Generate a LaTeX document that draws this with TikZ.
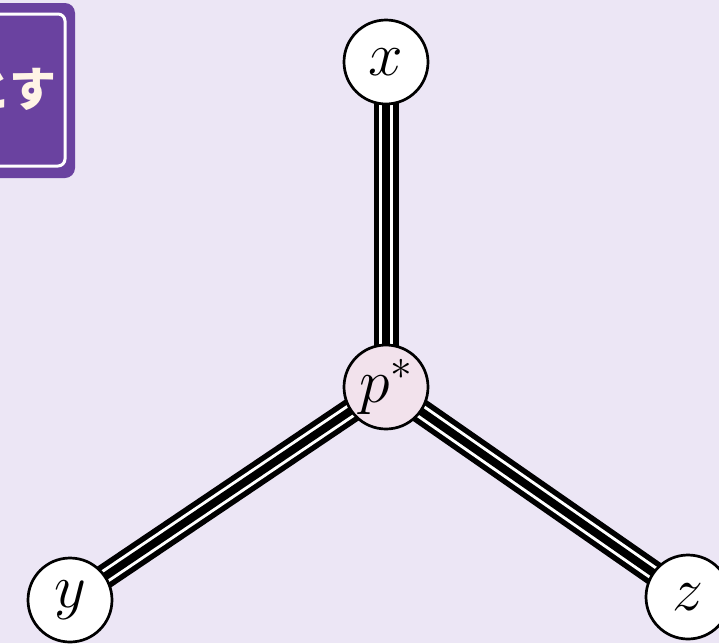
\RequirePackage{fix-cm}
\documentclass[tikz,border=0pt]{standalone}
\usepackage{fontspec}
\newfontfamily\jpfont{Noto Sans CJK JP}
\usetikzlibrary{backgrounds}
\definecolor{bgcol}{HTML}{ECE6F5}
\definecolor{boxpurple}{HTML}{6A42A0}
\definecolor{cream}{HTML}{FFF4E6}
\definecolor{pstarfill}{HTML}{F2E2EC}
\pgfdeclarelayer{edges}
\pgfsetlayers{background,edges,main}
\tikzset{
  vert/.style={circle, draw=black, line width=2.7pt, minimum size=84pt,
    inner sep=0pt, fill=white, font=\fontsize{62}{66}\selectfont},
  bond/.style={draw=black, line width=25pt,
    postaction={draw=white, line width=14pt},
    postaction={draw=black, line width=8pt}},
}
\begin{document}
\begin{tikzpicture}[x=1pt,y=-1pt]
\useasboundingbox (0,0) rectangle (719,643);
\begin{pgfonlayer}{background}
  \fill[bgcol] (0,0) rectangle (719,643);
\end{pgfonlayer}
\clip (0,0) rectangle (719,643);
% label tab in the upper left corner
\fill[boxpurple, rounded corners=10pt] (-40,3) rectangle (75,178);
\draw[white, line width=3pt, rounded corners=7pt] (-40,14) rectangle (65,166);
\node[anchor=east, text=cream, inner sep=0pt,
  font=\jpfont\bfseries\fontsize{47}{52}\selectfont] (lbl) at (57,89) {とす};
% vertices
\node[vert] (x) at (386,62) {$x$};
\node[vert, fill=pstarfill] (p) at (386,387) {$p^*$};
\node[vert] (y) at (70,600) {$y$};
\node[vert] (z) at (688,597) {$z$};
% triple bonds from the centre vertex
\begin{pgfonlayer}{edges}
  \path[bond] (p.center) -- (x.center);
  \path[bond] (p.center) -- (y.center);
  \path[bond] (p.center) -- (z.center);
\end{pgfonlayer}
\end{tikzpicture}
\end{document}
